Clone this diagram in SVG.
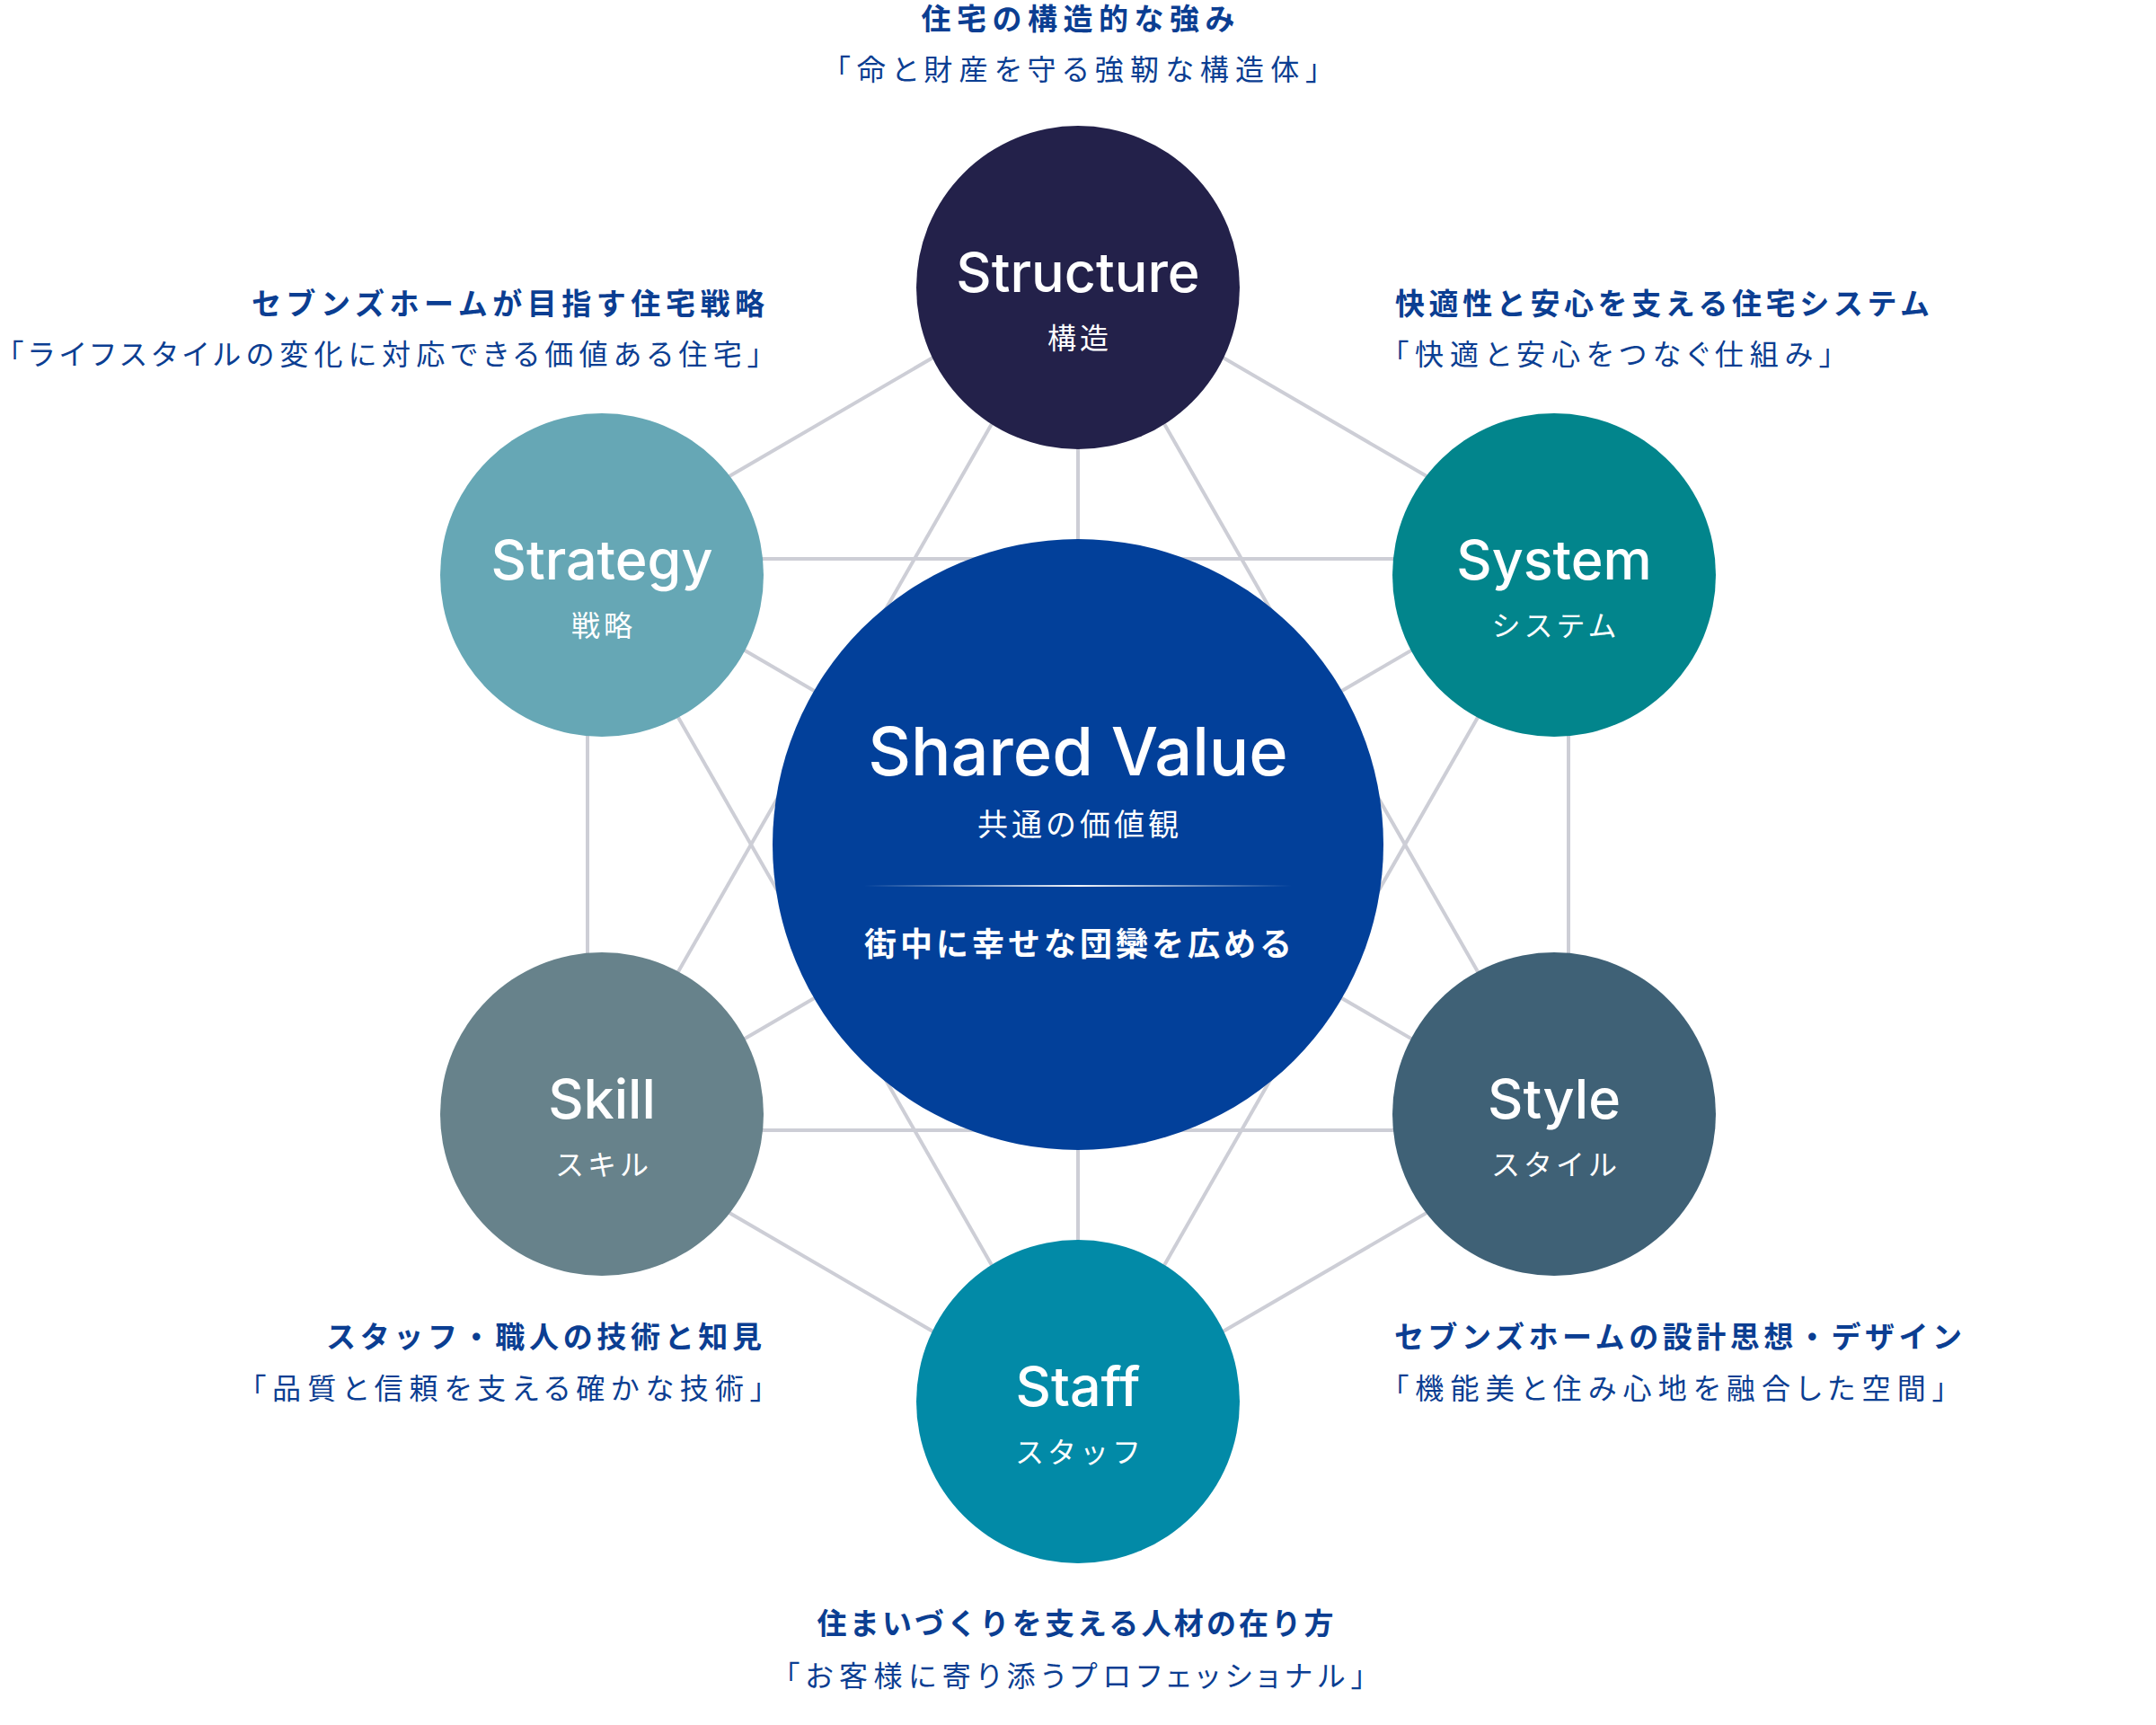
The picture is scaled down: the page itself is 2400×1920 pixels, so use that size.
<svg xmlns="http://www.w3.org/2000/svg" width="2400" height="1920" viewBox="0 0 2400 1920">
<defs>
<linearGradient id="sep" x1="0" y1="0" x2="1" y2="0">
<stop offset="0" stop-color="#ffffff" stop-opacity="0"/>
<stop offset="0.5" stop-color="#ffffff" stop-opacity="0.95"/>
<stop offset="1" stop-color="#ffffff" stop-opacity="0"/>
</linearGradient>
</defs>
<style>
.ln{stroke:#cdced6;stroke-width:4;fill:none}
.en{font-family:Inter,"Noto Sans",sans-serif;font-weight:500;fill:#ffffff;text-anchor:middle}
.jp{font-family:"Noto Sans CJK JP","Noto Sans",sans-serif;font-weight:400;fill:#ffffff;text-anchor:middle}
.jb{font-family:"Noto Sans CJK JP","Noto Sans",sans-serif;font-weight:700;fill:#ffffff;text-anchor:middle}
.tt{font-family:"Noto Sans CJK JP","Noto Sans",sans-serif;font-weight:700;font-size:33px;fill:#0b3e92}
.st{font-family:"Noto Sans CJK JP","Noto Sans",sans-serif;font-weight:400;font-size:32px;fill:#0b3e92;font-feature-settings:"palt"}
</style>
<rect width="2400" height="1920" fill="#ffffff"/>
<g id="connectors">
<line class="ln" x1="1200" y1="304" x2="654" y2="622"/>
<line class="ln" x1="1200" y1="304" x2="1746" y2="622"/>
<line class="ln" x1="654" y1="622" x2="654" y2="1258"/>
<line class="ln" x1="1746" y1="622" x2="1746" y2="1258"/>
<line class="ln" x1="654" y1="1258" x2="1200" y2="1576"/>
<line class="ln" x1="1746" y1="1258" x2="1200" y2="1576"/>
<line class="ln" x1="1200" y1="304" x2="654" y2="1258"/>
<line class="ln" x1="1200" y1="304" x2="1746" y2="1258"/>
<line class="ln" x1="654" y1="1258" x2="1746" y2="1258"/>
<line class="ln" x1="1200" y1="1576" x2="654" y2="622"/>
<line class="ln" x1="1200" y1="1576" x2="1746" y2="622"/>
<line class="ln" x1="654" y1="622" x2="1746" y2="622"/>
<line class="ln" x1="1200" y1="304" x2="1200" y2="1576"/>
<line class="ln" x1="654" y1="622" x2="1746" y2="1258"/>
<line class="ln" x1="1746" y1="622" x2="654" y2="1258"/>
</g>
<g id="structure">
<circle cx="1200" cy="320" r="180" fill="#23214a"/>
<text class="en" x="1200" y="325" font-size="61">Structure</text>
<text class="jp" x="1202" y="388" font-size="32" letter-spacing="4">構造</text>
</g>
<g id="system">
<circle cx="1730" cy="640" r="180" fill="#02858c"/>
<text class="en" x="1730" y="645" font-size="61">System</text>
<text class="jp" x="1732" y="708" font-size="32" letter-spacing="4">システム</text>
</g>
<g id="strategy">
<circle cx="670" cy="640" r="180" fill="#66a7b5"/>
<text class="en" x="670" y="645" font-size="61">Strategy</text>
<text class="jp" x="672" y="708" font-size="32" letter-spacing="4">戦略</text>
</g>
<g id="skill">
<circle cx="670" cy="1240" r="180" fill="#67828b"/>
<text class="en" x="670" y="1245" font-size="61">Skill</text>
<text class="jp" x="672" y="1308" font-size="32" letter-spacing="4">スキル</text>
</g>
<g id="style">
<circle cx="1730" cy="1240" r="180" fill="#3f6176"/>
<text class="en" x="1730" y="1245" font-size="61">Style</text>
<text class="jp" x="1732" y="1308" font-size="32" letter-spacing="4">スタイル</text>
</g>
<g id="staff">
<circle cx="1200" cy="1560" r="180" fill="#028aa7"/>
<text class="en" x="1200" y="1565" font-size="61">Staff</text>
<text class="jp" x="1202" y="1628" font-size="32" letter-spacing="4">スタッフ</text>
</g>
<g id="shared-value">
<circle cx="1200" cy="940" r="340" fill="#02409a"/>
<text class="en" x="1200" y="863" font-size="74">Shared Value</text>
<text class="jp" x="1202" y="930" font-size="34" letter-spacing="4">共通の価値観</text>
<rect x="962" y="985" width="476" height="2" fill="url(#sep)"/>
<text class="jb" x="1202" y="1064" font-size="36" letter-spacing="4">街中に幸せな団欒を広める</text>
</g>
<g id="label-structure">
<text class="tt" x="1200" y="33" text-anchor="middle" textLength="349">住宅の構造的な強み</text>
<text class="st" x="1200" y="89" text-anchor="middle" textLength="539">「命と財産を守る強靭な構造体」</text>
</g>
<g id="label-strategy">
<text class="tt" x="851" y="350" text-anchor="end" textLength="571">セブンズホームが目指す住宅戦略</text>
<text class="st" x="848" y="406" text-anchor="end" textLength="838">「ライフスタイルの変化に対応できる価値ある住宅」</text>
</g>
<g id="label-system">
<text class="tt" x="1553" y="350" textLength="595">快適性と安心を支える住宅システム</text>
<text class="st" x="1552" y="406" textLength="489">「快適と安心をつなぐ仕組み」</text>
</g>
<g id="label-skill">
<text class="tt" x="848" y="1500" text-anchor="end" textLength="485">スタッフ・職人の技術と知見</text>
<text class="st" x="851" y="1557" text-anchor="end" textLength="571">「品質と信頼を支える確かな技術」</text>
</g>
<g id="label-style">
<text class="tt" x="1552" y="1500" textLength="632">セブンズホームの設計思想・デザイン</text>
<text class="st" x="1552" y="1557" textLength="615">「機能美と住み心地を融合した空間」</text>
</g>
<g id="label-staff">
<text class="tt" x="1197" y="1819" text-anchor="middle" textLength="575">住まいづくりを支える人材の在り方</text>
<text class="st" x="1197" y="1877" text-anchor="middle" textLength="646">「お客様に寄り添うプロフェッショナル」</text>
</g>
</svg>
